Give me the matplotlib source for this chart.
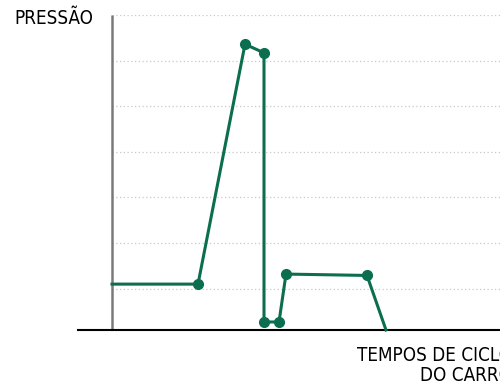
import matplotlib
matplotlib.use("Agg")
import matplotlib.pyplot as plt

# curva de pressão ao longo do ciclo (unidades arbitrárias)
tempo = [0, 8.6, 13.3, 15.2, 15.2, 16.7, 17.4, 25.5, 27.4]
pressao = [1.10, 1.10, 6.36, 6.17, 0.27, 0.27, 1.32, 1.29, 0.094]
marcados = [1, 2, 3, 4, 5, 6, 7]  # pontos com marcador
grade = [1, 2, 3, 4, 5, 6, 7]

verde = "#0b6e4f"

fig = plt.figure(figsize=(5, 3.86), dpi=100)
ax = fig.add_axes([78 / 500, 1 - 330 / 386, 422 / 500, 315 / 386])
ax.set_xlim(-3.4, 38.8)
ax.set_ylim(0.094, 7)

for g in grade:
    ax.hlines(g, 0, 38.8, colors="#c8c8c8", linestyles=(0, (1, 2)), linewidth=0.9, zorder=1)

ax.vlines(0, 0.094, 7, colors="#7a7a7a", linewidth=1.8, zorder=2)

ax.plot(tempo, pressao, color=verde, linewidth=2.2, zorder=3, solid_joinstyle="round",
        clip_on=False)
ax.plot([tempo[i] for i in marcados], [pressao[i] for i in marcados], "o",
        color=verde, markersize=7, zorder=4, clip_on=False)

for s in ["top", "right", "left"]:
    ax.spines[s].set_visible(False)
ax.spines["bottom"].set_color("black")
ax.spines["bottom"].set_linewidth(1.5)
ax.set_xticks([])
ax.set_yticks([])

fig.text(14 / 500, 1 - 18 / 386, "PRESSÃO", family="DejaVu Sans", stretch="condensed",
         fontsize=13.5, ha="left", va="center")
fig.text(512 / 500, 1 - 346 / 386, "TEMPOS DE CICLO\nDO CARRO", family="DejaVu Sans",
         stretch="condensed", fontsize=13.5, ha="right", va="top",
         multialignment="right", linespacing=1.05)

fig.savefig("out.png", dpi=100)
